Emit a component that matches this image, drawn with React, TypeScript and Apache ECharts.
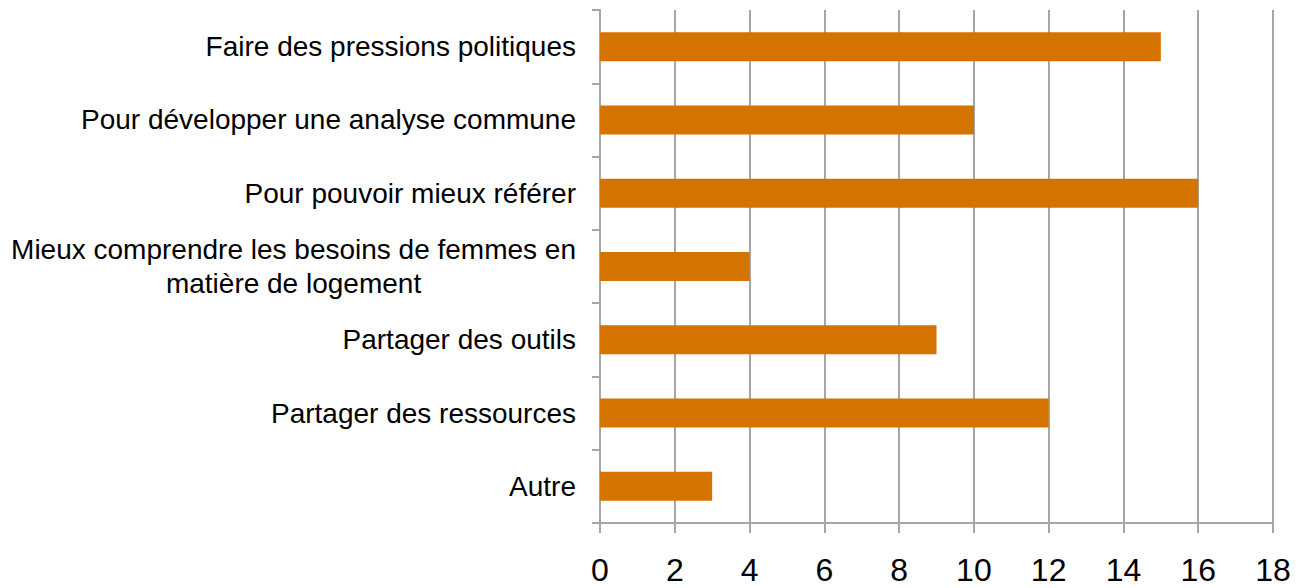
import React, { useEffect, useRef } from "react";
import * as echarts from "echarts";

const categories = [
  "Faire des pressions politiques",
  "Pour développer une analyse commune",
  "Pour pouvoir mieux référer",
  "Mieux comprendre les besoins de femmes en\nmatière de logement",
  "Partager des outils",
  "Partager des ressources",
  "Autre",
];
const values = [15, 10, 16, 4, 9, 12, 3];
const xTicks = { min: 0, max: 18, interval: 2 };

export default function App() {
  const ref = useRef<HTMLDivElement>(null);
  useEffect(() => {
    const chart = echarts.init(ref.current!, undefined, { renderer: "svg" });
    const gridColor = "#A6A6A6";
    const font = "Liberation Sans, Arial, sans-serif";
    chart.setOption({
      animation: false,
      grid: { left: 600, right: 33, top: 10, bottom: 65, containLabel: false },
      xAxis: {
        type: "value",
        min: xTicks.min,
        max: xTicks.max,
        interval: xTicks.interval,
        axisLine: { show: true, lineStyle: { color: gridColor, width: 2 } },
        axisTick: { show: true, length: 10, lineStyle: { color: gridColor, width: 2 } },
        splitLine: { show: true, lineStyle: { color: gridColor, width: 2 } },
        axisLabel: {
          color: "#000",
          fontSize: 32,
          fontFamily: font,
          margin: 31,
        },
      },
      yAxis: {
        type: "category",
        inverse: true,
        data: categories,
        axisLine: { show: true, lineStyle: { color: gridColor, width: 2 } },
        axisTick: { show: true, length: 8, lineStyle: { color: gridColor, width: 2 } },
        axisLabel: {
          color: "#000",
          fontSize: 28,
          lineHeight: 34,
          fontFamily: font,
          margin: 24,
          formatter: (v: string) =>
            v
              .split("\n")
              .map((s) => `{c|${s}}`)
              .join("\n"),
          rich: {
            c: {
              align: "center",
              color: "#000",
              fontSize: 28,
              lineHeight: 34,
              fontFamily: font,
            },
          },
        },
      },
      series: [
        {
          type: "bar",
          data: values,
          barWidth: 29,
          itemStyle: { color: "#D57300" },
        },
      ],
    });
    return () => chart.dispose();
  }, []);
  return (
    <div
      ref={ref}
      style={{ position: "fixed", left: 0, top: 0, width: 1306, height: 588, background: "#fff" }}
    />
  );
}
